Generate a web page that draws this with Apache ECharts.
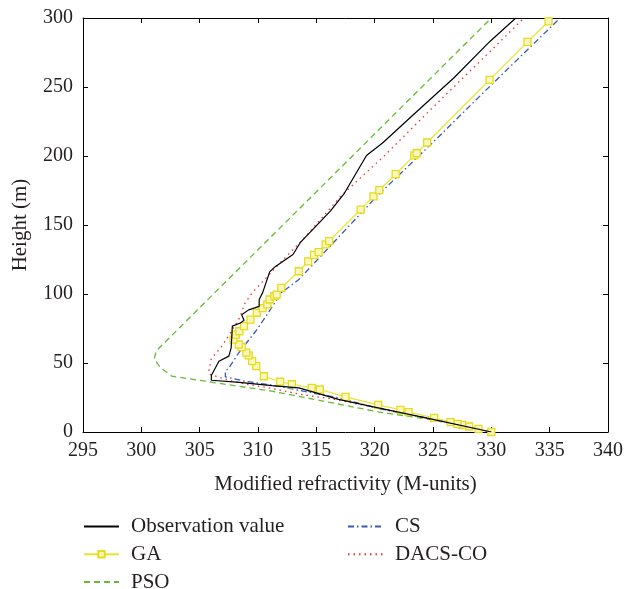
<!DOCTYPE html>
<html>
<head>
<meta charset="utf-8">
<script src="https://cdn.jsdelivr.net/npm/echarts@6/dist/echarts.min.js"></script>
<style>html,body{margin:0;padding:0;background:#fff;}#c{width:626px;height:589px;}</style>
</head>
<body>
<div id="c"></div>
<script>
// Observation value
const obsM = [330, 325.1, 320.3, 316.9, 313.5, 311.2, 308.4, 306.0, 306.0, 306.65, 307.5, 307.7, 307.8, 308.5, 308.8, 308.6, 309.2, 310.1, 310.1, 310.4, 311.0, 311.5, 313.0, 313.6, 316.2, 317.4, 319.3, 320.7, 323.5, 326.8, 329.9, 332.1];
const obsH = [0, 9, 17.5, 23.6, 32, 33.6, 35.9, 37.5, 41, 51.3, 55, 61, 76.7, 79, 81, 85, 88.5, 91, 96, 101, 116, 120, 128.6, 137, 160, 173, 200.4, 209.6, 231.3, 256.7, 283.2, 300];
// GA
const gaM = [330, 328.9, 328.1, 327.5, 327.1, 326.5, 325.1, 322.9, 322.2, 320.3, 317.5, 315.3, 314.6, 312.9, 311.9, 310.5, 309.85, 309.5, 309.2, 309.0, 308.6, 308.35, 307.9, 308.1, 308.4, 308.8, 309.35, 309.9, 310.4, 310.8, 311.0, 311.4, 311.6, 312.0, 313.5, 314.3, 314.8, 315.2, 315.8, 316.1, 318.8, 319.9, 320.4, 321.8, 323.4, 323.6, 324.5, 329.85, 333.1, 334.9];
const gaH = [0, 2.3, 4.0, 5.2, 5.9, 7.1, 10.3, 14.4, 16.1, 19.7, 25.5, 30.8, 32, 34.6, 36.4, 40.4, 47.7, 51.3, 55.5, 57.5, 61.5, 63.4, 67, 70.6, 73, 76.7, 81.5, 86.4, 89.8, 92.5, 96, 98.5, 99.5, 104.5, 116.5, 123.6, 128.4, 130.3, 135.9, 138.3, 161.2, 170.7, 175.2, 186.8, 200.4, 202, 209.8, 255.2, 282.7, 297.5];
// PSO
const psoM = [330, 325.1, 320.3, 316.6, 314.0, 311.2, 308.3, 305.5, 302.6, 301.6, 301.1, 301.2, 301.3, 330];
const psoH = [0, 8.6, 14.6, 20.7, 25, 29.6, 33.2, 36.8, 40.5, 47, 53, 56, 59, 300];
// CS
const csM = [330, 325.0, 320.3, 316.9, 314.6, 311.75, 308.9, 307.2, 307.2, 307.5, 308.35, 309.8, 310.6, 312.0, 313.5, 320.2, 325.4, 329.4, 335.9];
const csH = [0, 9.3, 17, 24.8, 28.4, 33.2, 36.8, 40, 44, 46.5, 57.4, 73, 82.8, 100.9, 110.5, 170.9, 213.2, 246.6, 300];
// DACS-CO
const dacM = [330, 325.0, 320.5, 316.6, 313.7, 312.3, 310.9, 309.2, 307.5, 305.8, 305.8, 306.0, 306.9, 307.5, 307.8, 308.35, 308.9, 309.5, 311.9, 313.9, 317.1, 320.8, 324.8, 328.9, 332.8];
const dacH = [0, 9.2, 17, 23.6, 27.2, 29.6, 32, 34.4, 37.5, 42, 45.3, 53, 62.2, 70, 74.3, 81.5, 93.6, 100.9, 122.6, 140, 170.9, 199.9, 233.7, 267.5, 300];

const xTicks = [295, 300, 305, 310, 315, 320, 325, 330, 335, 340];
const yTicks = [0, 50, 100, 150, 200, 250, 300];

const zip = (a, b) => a.map((v, i) => [v, b[i]]);
const FONT = 'Liberation Serif';
const TXT = '#231f20';

const chart = echarts.init(document.getElementById('c'), null, {renderer: 'canvas'});

const baseX = {
  type: 'value', min: xTicks[0], max: xTicks[xTicks.length - 1], interval: 5,
  axisLine: {show: true, onZero: false, lineStyle: {color: '#000', width: 1}},
  axisTick: {show: true, inside: true, length: 5, lineStyle: {color: '#000'}},
  splitLine: {show: false}
};
const baseY = {
  type: 'value', min: yTicks[0], max: yTicks[yTicks.length - 1], interval: 50,
  axisLine: {show: true, onZero: false, lineStyle: {color: '#000', width: 1}},
  axisTick: {show: true, inside: true, length: 5, lineStyle: {color: '#000'}},
  splitLine: {show: false}
};

const legendText = {fontFamily: FONT, fontSize: 21, lineHeight: 20, color: TXT, padding: [0, 0, 0, 7]};
const noSym = {opacity: 0};

chart.setOption({
  animation: false,
  backgroundColor: '#fff',
  grid: {left: 83, right: 14, top: 18, bottom: 157, containLabel: false},
  xAxis: [
    Object.assign({}, baseX, {
      position: 'bottom',
      name: 'Modified refractivity (M-units)', nameLocation: 'middle', nameGap: 42,
      nameTextStyle: {fontFamily: FONT, fontSize: 21, color: TXT},
      axisLabel: {fontFamily: FONT, fontSize: 20, color: TXT, margin: 9}
    }),
    Object.assign({}, baseX, {position: 'top', axisLabel: {show: false}})
  ],
  yAxis: [
    Object.assign({}, baseY, {
      position: 'left',
      name: 'Height (m)', nameLocation: 'middle', nameGap: 52, nameRotate: 90,
      nameTextStyle: {fontFamily: FONT, fontSize: 21, color: TXT},
      axisLabel: {fontFamily: FONT, fontSize: 20, color: TXT, margin: 10}
    }),
    Object.assign({}, baseY, {position: 'right', axisLabel: {show: false}})
  ],
  legend: [
    {
      orient: 'vertical', left: 83, top: 516, height: 90, width: 250, padding: 0,
      itemWidth: 35, itemHeight: 8, itemGap: 6.8,
      textStyle: legendText,
      data: [
        {name: 'Observation value', itemStyle: noSym},
        {name: 'GA'},
        {name: 'PSO', itemStyle: noSym}
      ]
    },
    {
      orient: 'vertical', left: 347, top: 516, height: 90, width: 250, padding: 0,
      itemWidth: 35, itemHeight: 8, itemGap: 6.8,
      textStyle: legendText,
      data: [
        {name: 'CS', itemStyle: noSym},
        {name: 'DACS-CO', itemStyle: noSym}
      ]
    }
  ],
  series: [
    {
      name: 'PSO', type: 'line', data: zip(psoM, psoH), symbol: 'none', smooth: false,
      lineStyle: {color: '#66bb33', width: 1.3, type: [6, 4]},
      itemStyle: {color: '#66bb33'}, z: 2
    },
    {
      name: 'CS', type: 'line', data: zip(csM, csH), symbol: 'none',
      lineStyle: {color: '#3a5bb0', width: 1.3, type: [6, 3, 1.5, 3]},
      itemStyle: {color: '#3a5bb0'}, z: 3
    },
    {
      name: 'DACS-CO', type: 'line', data: zip(dacM, dacH), symbol: 'none',
      lineStyle: {color: '#f03030', width: 1.3, type: [1.5, 4]},
      itemStyle: {color: '#f03030'}, z: 4
    },
    {
      name: 'GA', type: 'line', data: zip(gaM, gaH), symbol: 'rect', symbolSize: 7, showAllSymbol: true,
      lineStyle: {color: '#ebe32a', width: 1.2},
      itemStyle: {color: '#fbf7c0', borderColor: '#e6dc1e', borderWidth: 1.3}, z: 5
    },
    {
      name: 'Observation value', type: 'line', data: zip(obsM, obsH), symbol: 'none',
      lineStyle: {color: '#000', width: 1.2},
      itemStyle: {color: '#000'}, z: 6
    }
  ]
});
</script>
</body>
</html>
